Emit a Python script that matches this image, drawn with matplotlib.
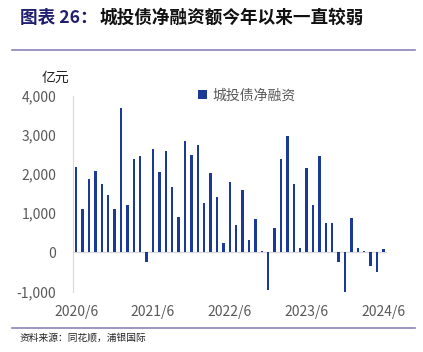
import numpy as np
import matplotlib
matplotlib.use("Agg")
import matplotlib.pyplot as plt

plt.rcParams['font.family'] = ['Noto Sans CJK SC', 'DejaVu Sans']

# monthly net financing of city investment bonds, 2020/6 - 2024/6 (100m yuan)
months = ['2020/6', '2020/7', '2020/8', '2020/9', '2020/10', '2020/11', '2020/12',
          '2021/1', '2021/2', '2021/3', '2021/4', '2021/5', '2021/6', '2021/7',
          '2021/8', '2021/9', '2021/10', '2021/11', '2021/12', '2022/1', '2022/2',
          '2022/3', '2022/4', '2022/5', '2022/6', '2022/7', '2022/8', '2022/9',
          '2022/10', '2022/11', '2022/12', '2023/1', '2023/2', '2023/3', '2023/4',
          '2023/5', '2023/6', '2023/7', '2023/8', '2023/9', '2023/10', '2023/11',
          '2023/12', '2024/1', '2024/2', '2024/3', '2024/4', '2024/5', '2024/6']
net_fin = [2170, 1105, 1870, 2070, 1745, 1465, 1100, 3680, 1210, 2390, 2470, -255,
           2640, 2045, 2600, 1670, 900, 2845, 2485, 2735, 1260, 2020, 1420,
           240, 1795, 690, 1590, 305, 850, 35, -960, 615, 2385, 2970, 1735,
           110, 2145, 1220, 2460, 750, 740, -240, -1065, 870, 110, 45, -340,
           -495, 85]
tick_labels = ['2020/6', '2021/6', '2022/6', '2023/6', '2024/6']

fig = plt.figure(figsize=(4.23, 3.52), dpi=100)
ax = fig.add_axes([73/423, 1 - 291.5/352, (386.6-73)/423, (291.5-95.7)/352])

x = np.arange(len(months))
ax.bar(x, net_fin, width=0.36, color='#1a3a96', label='城投债净融资', zorder=3)
ax.axhline(0, color='#d9d9d9', lw=1, zorder=2)

ax.set_xlim(-0.5, len(months) - 0.5)
ax.set_ylim(-1000, 4000)
ax.set_yticks(range(-1000, 4001, 1000))
ax.set_yticklabels(['{:,}'.format(v) for v in range(-1000, 4001, 1000)])
ax.set_xticks([months.index(t) for t in tick_labels])
ax.set_xticklabels(tick_labels)
ax.tick_params(axis='both', length=0, labelsize=10, colors='#595959')
ax.tick_params(axis='y', pad=12)
ax.tick_params(axis='x', pad=10)
for s in ['top', 'right', 'bottom']:
    ax.spines[s].set_visible(False)
ax.spines['left'].set_color('#d9d9d9')

fig.text(55/423, 1 - 78/352, '亿元', fontsize=10, ha='center', va='center', color='#222222')
ax.legend(loc='upper left', bbox_to_anchor=(0.36, 1.1), frameon=False,
          fontsize=10, handlelength=0.6, handleheight=0.6, handletextpad=0.4,
          labelcolor='#595959')

fig.text(20/423, 1 - 18/352, '图表 26：', fontsize=12.7, fontweight='bold',
         color='#1f1f6e', va='center')
fig.text(100/423, 1 - 18/352, '城投债净融资额今年以来一直较弱', fontsize=12.7,
         fontweight='bold', color='#111111', va='center')
fig.add_artist(plt.Line2D([12/423, 415/423], [1 - 50/352, 1 - 50/352],
                          color='#8a84b8', lw=1.2))
fig.add_artist(plt.Line2D([12/423, 415/423], [1 - 328/352, 1 - 328/352],
                          color='#8a84b8', lw=1.2))
fig.text(20/423, 1 - 338/352, '资料来源：同花顺，浦银国际', fontsize=7,
         color='#222222', va='center')

fig.savefig('out.png', dpi=100)
